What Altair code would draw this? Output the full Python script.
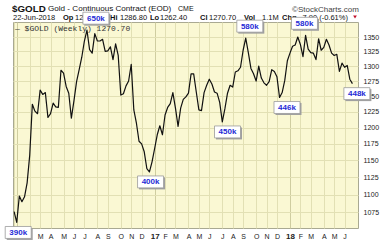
import altair as alt
import pandas as pd

# Weekly closes of $GOLD, 25-Dec-2015 .. 22-Jun-2018
closes = [
    1076, 1061, 1098, 1090, 1097, 1117, 1158, 1237, 1226, 1222,
    1260, 1253, 1256, 1216, 1222, 1239, 1233, 1232, 1293, 1288,
    1266, 1255, 1215, 1243, 1274, 1294, 1315, 1343, 1362, 1328,
    1322, 1356, 1343, 1343, 1346, 1325, 1326, 1333, 1311, 1338,
    1318, 1252, 1254, 1267, 1275, 1303, 1228, 1207, 1179, 1175,
    1163, 1138, 1133, 1148, 1168, 1189, 1203, 1189, 1220, 1232,
    1238, 1256, 1231, 1202, 1231, 1245, 1249, 1255, 1287, 1287,
    1257, 1228, 1227, 1256, 1268, 1278, 1270, 1257, 1255, 1240,
    1209, 1230, 1255, 1268, 1265, 1290, 1292, 1298, 1327, 1348,
    1323, 1296, 1287, 1275, 1300, 1280, 1272, 1268, 1274, 1294,
    1291, 1282, 1248, 1256, 1276, 1309, 1322, 1334, 1336, 1350,
    1337, 1316, 1353, 1329, 1323, 1322, 1311, 1347, 1327, 1332,
    1346, 1336, 1322, 1318, 1320, 1291, 1305, 1298, 1301, 1278,
    1270.7,
]
last_date = "2018-06-22"

# Volume call-out boxes
ann_date = ["2016-01-05", "2016-08-01", "2016-12-26", "2017-07-21",
            "2017-09-19", "2017-12-28", "2018-02-13", "2018-07-04"]
ann_text = ["390k", "650k", "400k", "450k", "580k", "446k", "580k", "448k"]
ann_price = [1061, 1362, 1133, 1209, 1348, 1248, 1353, 1270.7]
ann_side = ["below", "above", "below", "below", "above", "below", "above", "below"]

y_ticks = [1075, 1100, 1125, 1150, 1175, 1200, 1225, 1250, 1275, 1300, 1325, 1350]
x_start, x_end = "2015-12-22", "2018-07-07"
first_label = "2016-03-01"   # earlier month labels are hidden under the 390k box
y_low, y_high = 1053.4, 1376.6

weeks = pd.date_range(end=last_date, periods=len(closes), freq="W-FRI")
df = pd.DataFrame({"date": weeks.strftime("%Y-%m-%d"), "close": closes})

# gridlines at the first weekly bar of every month
firsts = pd.Series(weeks).groupby([weeks.year, weeks.month]).min()
month_ticks = [int(pd.Timestamp(d).value // 10**6) for d in firsts]

ann = pd.DataFrame({"date": ann_date, "text": ann_text, "price": ann_price, "side": ann_side})

FONT = "Liberation Sans"
BG = "#FAF8D3"
GRID = "#E2E0B4"
BLUE = "#1F2BD6"

def ms(s):
    return int(pd.Timestamp(s).value // 10**6)

x_scale = alt.Scale(type="utc", domain=[ms(x_start), ms(x_end)])
y_scale = alt.Scale(type="log", domain=[y_low, y_high], nice=False, zero=False)

is_year = "utcmonth(datum.value) == 0"
x_axis = alt.Axis(
    values=month_ticks,
    labelExpr=(f"datum.value < {ms(first_label)} ? '' : ({is_year} ? utcFormat(datum.value, '%y') "
               ": slice(utcFormat(datum.value, '%b'), 0, 1))"),
    labelFontWeight={"condition": {"test": is_year, "value": "bold"}, "value": "normal"},
    labelFontSize={"condition": {"test": is_year, "value": 8}, "value": 7},
    labelColor="#222", labelFont=FONT, labelPadding=4, labelBaseline="top",
    labelAlign="center", labelOverlap=False, labelFlush=False, labelBound=False,
    ticks=False, domain=False, title=None,
    grid=True,
    gridColor={"condition": {"test": is_year, "value": "#CFCDA0"}, "value": GRID},
    gridWidth=1,
)
y_axis = alt.Axis(
    orient="right", values=y_ticks, format="d", labelFontSize=7, labelColor="#222",
    labelFont=FONT, labelPadding=5, ticks=False, domain=False, title=None,
    labelOverlap=False, grid=True, gridColor=GRID, gridWidth=1,
)

line = alt.Chart(df).mark_line(color="#111", strokeWidth=1.2, strokeJoin="round").encode(
    x=alt.X("date:T", scale=x_scale, axis=x_axis),
    y=alt.Y("close:Q", scale=y_scale, axis=y_axis),
)

def txt(text, x, y, size=7.5, weight="normal", color="#111", font=FONT):
    return alt.Chart(alt.Data(values=[{}])).mark_text(
        text=text, align="left", baseline="alphabetic", fontSize=size,
        fontWeight=weight, color=color, font=font,
    ).encode(x=alt.value(x), y=alt.value(y))

header = [
    txt("$GOLD", -1, -10.5, size=9.8, weight="bold"),
    txt("Gold - Continuous Contract (EOD)", 35, -11, size=8.1),
    txt("CME", 165, -11, size=7),
    txt("22-Jun-2018", 0, -2, size=7.5),
    txt("Op", 50, -2, size=7.5, weight="bold"),
    txt("1278.60", 62, -2, size=7.5),
    txt("Hi", 97, -2, size=7.5, weight="bold"),
    txt("1286.80", 107, -2, size=7.5),
    txt("Lo", 137, -2, size=7.5, weight="bold"),
    txt("1262.40", 147, -2, size=7.5),
    txt("Cl", 187, -2, size=7.5, weight="bold"),
    txt("1270.70", 196, -2, size=7.5),
    txt("Vol", 231, -2, size=7.5, weight="bold"),
    txt("1.1M", 249, -2, size=7.5),
    txt("Chg", 269, -2, size=7.5, weight="bold"),
    txt("-7.90 (-0.61%)", 287, -2, size=7.5),
    txt("\u00a9StockCharts.com", 279, -10, size=8, color="#444"),
    txt("\u2014 $GOLD (Weekly) 1270.70", 2, 9, size=8, color="#333", font="Liberation Mono"),
]
tri = alt.Chart(alt.Data(values=[{}])).mark_point(
    shape="triangle-down", filled=True, color="#C0102A", size=14, opacity=1
).encode(x=alt.value(342), y=alt.value(-5))

BOX = "M-1,-0.46L1,-0.46L1,0.46L-1,0.46Z"

def boxes(side, off):
    base = alt.Chart(ann).transform_filter(alt.datum.side == side).encode(
        x=alt.X("date:T", scale=x_scale, axis=x_axis),
        y=alt.Y("price:Q", scale=y_scale, axis=y_axis),
    )
    shadow = base.mark_point(shape=BOX, size=676, filled=True, color="#A0A0A0",
                             opacity=1, xOffset=1.5, yOffset=off + 1.5)
    box = base.mark_point(shape=BOX, size=676, filled=True, fill="white", stroke="#9A9A9A",
                          strokeWidth=0.8, opacity=1, yOffset=off)
    label = base.mark_text(fontSize=8, fontWeight="bold", color=BLUE, font=FONT,
                           baseline="middle", align="center", yOffset=off + 0.5).encode(text="text:N")
    return [shadow, box, label]

chart = alt.layer(
    line, *header, tri, *boxes("above", -12), *boxes("below", 10)
).properties(
    width=345, height=206,
    padding={"left": 13, "top": 22, "right": 34, "bottom": 13},
    autosize=alt.AutoSizeParams(type="none"),
    background="white",
).configure_view(fill=BG, stroke="#A9A992", strokeWidth=1)

chart.save("out.html", embed_options={"renderer": "svg", "actions": False})
